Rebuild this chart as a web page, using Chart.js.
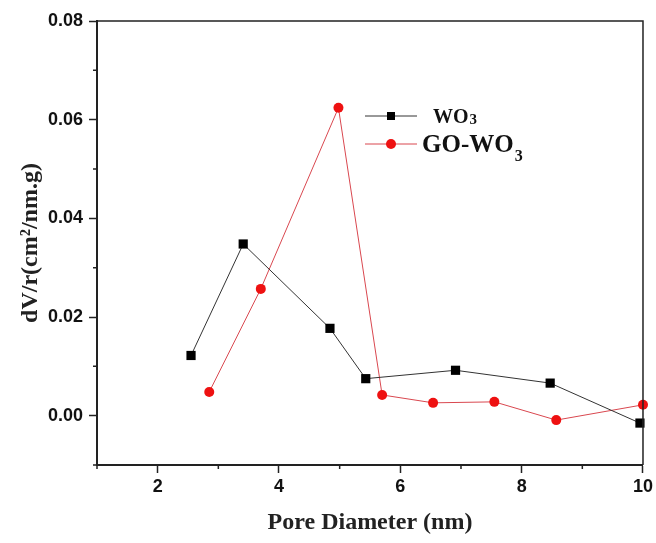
<!DOCTYPE html>
<html lang="en">
<head>
    <meta charset="UTF-8">
    <title>Pore size distribution</title>
    <script src="https://cdn.jsdelivr.net/npm/chart.js"></script>
    <style>
        html, body { margin: 0; padding: 0; background: #fff; }
        #wrap { width: 656px; height: 543px; }
    </style>
</head>
<body>
    <div id="wrap"><canvas id="poreChart"></canvas></div>
    <script>
        // data
        const woX = [2.55, 3.41, 4.84, 5.43, 6.91, 8.47, 9.95];
        const woY = [0.0122, 0.0348, 0.0177, 0.0075, 0.0092, 0.0066, -0.0015];
        const goX = [2.85, 3.70, 4.98, 5.70, 6.54, 7.55, 8.57, 10.0];
        const goY = [0.0048, 0.0257, 0.0624, 0.0042, 0.0026, 0.0028, -0.0009, 0.0022];
        const seriesNames = ['WO3', 'GO-WO3'];

        const xTicks = [2, 4, 6, 8, 10];
        const xMinor = [1, 3, 5, 7, 9];
        const yTicks = [0, 0.02, 0.04, 0.06, 0.08];
        const yMinor = [-0.01, 0.01, 0.03, 0.05, 0.07];

        const pts = (xs, ys) => xs.map((x, i) => ({ x: x, y: ys[i] }));

        // box frame + minor ticks
        const framePlugin = {
            id: 'frame',
            afterDraw(chart) {
                const { ctx, chartArea: a, scales } = chart;
                ctx.save();
                ctx.strokeStyle = '#222';
                ctx.lineWidth = 1.5;
                ctx.beginPath();
                ctx.moveTo(a.left, a.top);
                ctx.lineTo(a.right, a.top);
                ctx.lineTo(a.right, a.bottom);
                ctx.stroke();
                ctx.beginPath();
                xMinor.forEach(v => {
                    const px = scales.x.getPixelForValue(v);
                    ctx.moveTo(px, a.bottom);
                    ctx.lineTo(px, a.bottom + 4);
                });
                yMinor.forEach(v => {
                    const py = scales.y.getPixelForValue(v);
                    ctx.moveTo(a.left, py);
                    ctx.lineTo(a.left - 4, py);
                });
                ctx.stroke();
                ctx.restore();
            }
        };

        // legend with subscripts, inside the plot
        const legendPlugin = {
            id: 'subLegend',
            afterDraw(chart) {
                const { ctx, chartArea: a } = chart;
                const rows = [
                    { y: 116, size: 20, subSize: 15, subDrop: 1, tx: 433 },
                    { y: 144, size: 25, subSize: 16, subDrop: 9, tx: 422 }
                ];
                ctx.save();
                chart.data.datasets.forEach((ds, i) => {
                    const r = rows[i];
                    const y = a.top + (r.y - 21);
                    ctx.strokeStyle = ds.borderColor;
                    ctx.lineWidth = 1;
                    ctx.beginPath();
                    ctx.moveTo(365, y);
                    ctx.lineTo(417, y);
                    ctx.stroke();
                    ctx.fillStyle = ds.pointBackgroundColor;
                    if (ds.pointStyle === 'rect') {
                        ctx.fillRect(391 - 4, y - 4, 8, 8);
                    } else {
                        ctx.beginPath();
                        ctx.arc(391, y, 5, 0, Math.PI * 2);
                        ctx.fill();
                    }
                    const label = seriesNames[i];
                    const main = label.slice(0, -1);
                    const sub = label.slice(-1);
                    ctx.fillStyle = '#111';
                    ctx.textBaseline = 'alphabetic';
                    ctx.font = 'bold ' + r.size + 'px "Liberation Serif", serif';
                    const base = y + r.size * 0.33;
                    ctx.fillText(main, r.tx, base);
                    const w = ctx.measureText(main).width;
                    ctx.font = 'bold ' + r.subSize + 'px "Liberation Serif", serif';
                    ctx.fillText(sub, r.tx + w + 1, base + r.subDrop);
                });
                ctx.restore();
            }
        };

        new Chart(document.getElementById('poreChart'), {
            type: 'line',
            data: {
                datasets: [{
                    label: seriesNames[0],
                    data: pts(woX, woY),
                    borderColor: '#333333',
                    borderWidth: 1,
                    pointStyle: 'rect',
                    pointRadius: 6.5,
                    pointBackgroundColor: '#000000',
                    pointBorderColor: '#000000',
                    pointBorderWidth: 0,
                    tension: 0,
                    clip: false
                }, {
                    label: seriesNames[1],
                    data: pts(goX, goY),
                    borderColor: '#d9474f',
                    borderWidth: 1,
                    pointStyle: 'circle',
                    pointRadius: 5,
                    pointBackgroundColor: '#ee1111',
                    pointBorderColor: '#ee1111',
                    pointBorderWidth: 0,
                    tension: 0,
                    clip: false
                }]
            },
            options: {
                responsive: true,
                maintainAspectRatio: false,
                animation: false,
                layout: { padding: { top: 21, right: 11, left: 0, bottom: 0 } },
                plugins: {
                    legend: { display: false },
                    tooltip: { enabled: false }
                },
                scales: {
                    x: {
                        type: 'linear',
                        min: 1,
                        max: 10,
                        afterBuildTicks: s => { s.ticks = xTicks.map(v => ({ value: v })); },
                        afterFit: s => { s.height = 78; },
                        grid: { drawOnChartArea: false, tickLength: 8, tickWidth: 1.5, tickColor: '#222' },
                        border: { color: '#222', width: 2 },
                        ticks: {
                            color: '#111',
                            padding: 3,
                            font: { family: '"Liberation Sans", Arial, sans-serif', size: 18, weight: 'bold' },
                            callback: v => v
                        },
                        title: {
                            display: true,
                            text: 'Pore Diameter (nm)',
                            color: '#222',
                            padding: { top: 0, bottom: 6 },
                            font: { family: '"Liberation Serif", "Times New Roman", serif', size: 24, weight: 'bold' }
                        }
                    },
                    y: {
                        type: 'linear',
                        min: -0.01,
                        max: 0.08,
                        afterBuildTicks: s => { s.ticks = yTicks.map(v => ({ value: v })); },
                        afterFit: s => { s.width = 97; },
                        grid: { drawOnChartArea: false, tickLength: 8, tickWidth: 1.5, tickColor: '#222' },
                        border: { color: '#222', width: 2 },
                        ticks: {
                            color: '#111',
                            padding: 6,
                            font: { family: '"Liberation Sans", Arial, sans-serif', size: 18, weight: 'bold' },
                            callback: v => v.toFixed(2)
                        },
                        title: {
                            display: true,
                            text: 'dV/r(cm²/nm.g)',
                            color: '#222',
                            padding: { top: 16, bottom: 0 },
                            font: { family: '"Liberation Serif", "Times New Roman", serif', size: 24, weight: 'bold' }
                        }
                    }
                }
            },
            plugins: [framePlugin, legendPlugin]
        });
    </script>
</body>
</html>
